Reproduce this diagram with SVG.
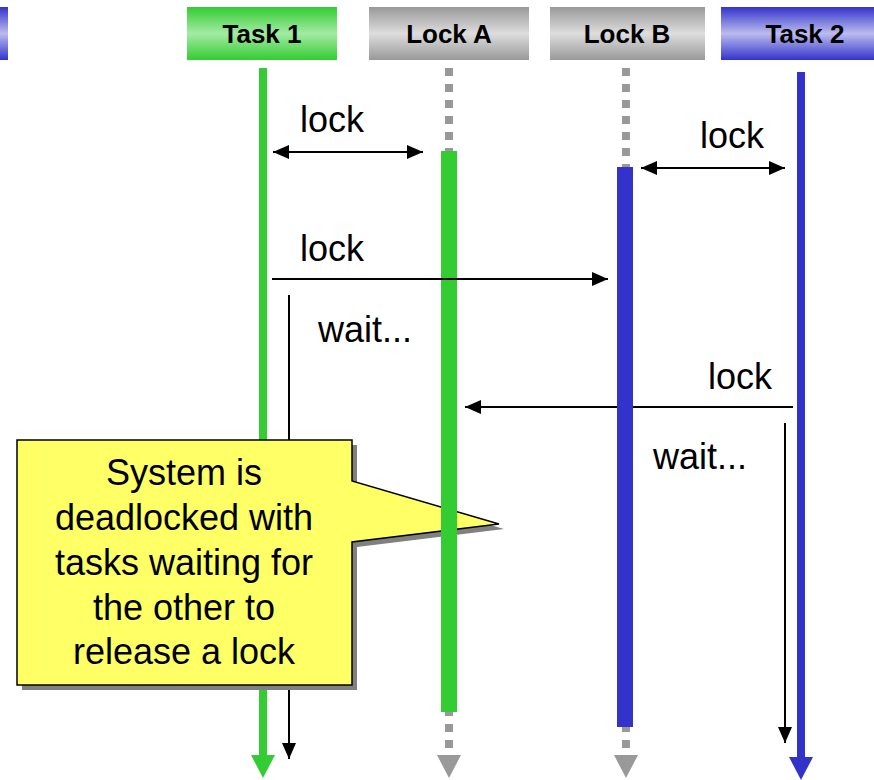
<svg xmlns="http://www.w3.org/2000/svg" width="874" height="780" viewBox="0 0 874 780">
<defs>
<linearGradient id="gGreen" x1="0" y1="0" x2="0" y2="1">
<stop offset="0" stop-color="#33CC33"/><stop offset="0.5" stop-color="#A3EBA3"/><stop offset="1" stop-color="#33CC33"/>
</linearGradient>
<linearGradient id="gGray" x1="0" y1="0" x2="0" y2="1">
<stop offset="0" stop-color="#999999"/><stop offset="0.5" stop-color="#DDDDDD"/><stop offset="1" stop-color="#999999"/>
</linearGradient>
<linearGradient id="gBlue" x1="0" y1="0" x2="0" y2="1">
<stop offset="0" stop-color="#3333CC"/><stop offset="0.5" stop-color="#BBBBEE"/><stop offset="1" stop-color="#3333CC"/>
</linearGradient>
<marker id="ah" viewBox="0 0 16 16" refX="16" refY="8" markerWidth="16" markerHeight="16" markerUnits="userSpaceOnUse" orient="auto-start-reverse">
<path d="M0,1 L16,8 L0,15 z" fill="#000"/>
</marker>
<style>
.hdr{font-family:"Liberation Sans",Arial,sans-serif;font-weight:bold;font-size:26px;fill:#000;text-anchor:middle}
.lbl{font-family:"Liberation Sans",Arial,sans-serif;font-size:36px;fill:#000}
.note{font-family:"Liberation Sans",Arial,sans-serif;font-size:36px;fill:#000;text-anchor:middle}
.msg{stroke:#000;stroke-width:2;fill:none}
.dots{stroke:#999999;stroke-width:8;stroke-dasharray:8 8;fill:none}
</style>
</defs>

<g id="header-left"><rect x="0" y="7" width="8" height="53" fill="url(#gBlue)"/></g>

<g id="task1">
<rect x="187" y="7" width="150" height="53" fill="url(#gGreen)"/>
<text class="hdr" x="262" y="43">Task 1</text>
<line x1="263" y1="68" x2="263" y2="756" stroke="#33CC33" stroke-width="8"/>
<polygon points="251,755 275,755 263,778" fill="#33CC33"/>
</g>

<g id="lockA">
<rect x="369" y="7" width="160" height="53" fill="url(#gGray)"/>
<text class="hdr" x="449" y="43">Lock A</text>
<line class="dots" x1="449" y1="68" x2="449" y2="755"/>
<polygon points="437,755 461,755 449,778" fill="#999999"/>
</g>

<g id="lockB">
<rect x="550" y="7" width="155" height="53" fill="url(#gGray)"/>
<text class="hdr" x="627" y="43">Lock B</text>
<line class="dots" x1="626" y1="68" x2="626" y2="755"/>
<polygon points="614,755 638,755 626,778" fill="#999999"/>
</g>

<g id="task2">
<rect x="721" y="7" width="160" height="53" fill="url(#gBlue)"/>
<text class="hdr" x="805" y="43">Task 2</text>
<line x1="801" y1="72" x2="801" y2="758" stroke="#3333CC" stroke-width="8"/>
<polygon points="789,757 813,757 801,780" fill="#3333CC"/>
</g>

<g id="connectors">
<line class="msg" x1="793" y1="407" x2="465" y2="407" marker-end="url(#ah)"/>
<rect id="lockB-held" x="617" y="167" width="16" height="560" fill="#3333CC"/>
<line class="msg" x1="273" y1="152" x2="423" y2="152" marker-start="url(#ah)" marker-end="url(#ah)"/>
<line class="msg" x1="641" y1="168" x2="785" y2="168" marker-start="url(#ah)" marker-end="url(#ah)"/>
<line class="msg" x1="289" y1="295" x2="289" y2="759" marker-end="url(#ah)"/>
<line class="msg" x1="785" y1="423" x2="785" y2="743" marker-end="url(#ah)"/>
<text class="lbl" x="300" y="132">lock</text>
<text class="lbl" x="700" y="148">lock</text>
<text class="lbl" x="300" y="261">lock</text>
<text class="lbl" x="318" y="342">wait...</text>
<text class="lbl" x="708" y="389">lock</text>
<text class="lbl" x="653" y="469">wait...</text>
</g>

<g id="callout">
<path d="M22,445 H357 V486 L504,529 L357,547 V690 H22 Z" fill="#808080"/>
<path d="M17,440 H352 V481 L499,524 L352,542 V685 H17 Z" fill="#FFFF66" stroke="#000" stroke-width="1.5"/>
<text class="note" x="184" y="485">System is</text>
<text class="note" x="184" y="530">deadlocked with</text>
<text class="note" x="184" y="575">tasks waiting for</text>
<text class="note" x="184" y="620">the other to</text>
<text class="note" x="184" y="664">release a lock</text>
</g>

<g id="lockA-activation">
<rect x="441" y="151" width="16" height="561" fill="#33CC33"/>
<line class="msg" x1="272" y1="279" x2="608" y2="279" marker-end="url(#ah)"/>
</g>
</svg>
